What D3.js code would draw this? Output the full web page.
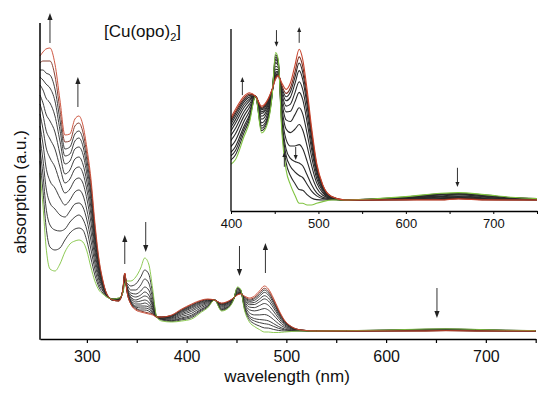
<!DOCTYPE html>
<html>
<head>
<meta charset="utf-8">
<script src="https://cdn.jsdelivr.net/npm/d3@7"></script>
<style>
body { margin: 0; background: #fff; }
svg { display: block; font-family: Arial, "Liberation Sans", sans-serif; }
</style>
</head>
<body>
<div id="canvas"></div>
<script>
"use strict"

let svgWidth = 550
let svgHeight = 394

/* wavelengths (nm) shared by every scan */
let wavelengths = [253,256,259,263,268,273,278,283,288,292, 296,300,304,308,312,316,320,326,332,336,
  338,340,344,349,354,358,362,366,370,375, 385,395,405,415,421,428,435,442,447,451,
  454,458,463,468,473,478,482,487,492,498, 505,515,530,560,600,640,660,690,720,750]

/* absorption (a.u. x100) of each scan, first scan (green) to last scan (red) */
let scan01 = [158,125,85,62,60,67,79,87,90,91, 89,80,64,50,41,37,34,32,33,38,
  47,50,50,54,63,73,67,42,14,10, 9,10,12,19,23,31,20,23,31,44,
  42,21,9,4.5,1.5,-1,-1,-1.5,-1.5,-1, -0.5,0,0,0.3,1,2,2.2,1.6,0.8,0.4]
let scan02 = [170,140,105,84,81,83,91,98,102,103, 101,90,73,56,44,38,34,32,33,38,
  49,48,45,47,54,61,57,37,14,11, 9.6,11.1,13.4,20.1,23.8,31,20.7,23.6,31.2,43.3,
  41.6,22.3,11.2,7.2,5,3.1,2.9,1.6,0.6,0.1, 0,0.1,0,0.3,0.9,1.8,2,1.5,0.7,0.4]
let scan03 = [181,156,124,106,101,100,102,109,114,116, 112,101,82,62,47,40,35,32,32,39,
  51,47,41,41,46,52,48,32,14,12, 10.3,12.2,14.7,21.2,24.6,31,21.4,24.3,31.4,42.6,
  41.1,23.5,13.3,10,8.4,7.3,6.7,4.7,2.7,1.2, 0.4,0.2,0,0.2,0.8,1.6,1.9,1.3,0.7,0.3]
let scan04 = [193,171,144,128,122,116,114,120,127,128, 124,111,91,68,51,41,35,32,32,39,
  53,45,38,37,40,44,41,28,14,12, 10.8,13.1,15.9,22.1,25.3,31,22.1,24.8,31.5,41.9,
  40.7,24.6,15.2,12.4,11.5,11,10.2,7.5,4.6,2.1, 0.8,0.3,0,0.2,0.7,1.5,1.7,1.2,0.6,0.3]
let scan05 = [205,187,164,150,143,133,126,131,139,141, 136,121,100,74,54,43,35,32,32,39,
  54,44,36,34,36,39,36,26,14,12, 11.7,14.6,17.7,23.6,26.4,31,23,25.7,31.8,41,
  40.1,26.3,18.1,16.1,16.1,16.5,15.3,11.6,7.4,3.6, 1.4,0.4,0,0.2,0.6,1.2,1.5,1,0.5,0.2]
let scan06 = [217,202,184,173,164,149,138,142,151,153, 148,132,109,80,57,44,36,32,32,40,
  55,44,34,31,33,35,33,24,14,13, 12.6,16.1,19.7,25.1,27.6,31,24.1,26.6,32,39.9,
  39.5,28.1,21.2,20.1,21.1,22.5,20.9,16.1,10.5,5.1, 2.1,0.5,0,0.1,0.5,1,1.2,0.8,0.4,0.2]
let scan07 = [227,216,201,192,182,164,148,152,162,164, 158,141,117,85,60,45,36,31,31,40,
  55,43,33,29,30,31,29,22,14,13, 13.3,17.4,21.3,26.4,28.6,31,25,27.3,32.2,39,
  38.9,29.7,23.9,23.4,25.4,27.5,25.7,19.9,13.1,6.4, 2.6,0.6,0,0.1,0.4,0.8,1,0.6,0.3,0.2]
let scan08 = [236,228,217,210,199,177,157,161,172,174, 167,149,124,90,62,46,36,31,31,40,
  56,43,31,27,27,28,26,21,14,13, 14,18.6,22.8,27.6,29.5,31,25.8,28,32.4,38.2,
  38.4,31.1,26.3,26.5,29.2,32.1,30,23.3,15.4,7.6, 3.1,0.7,0,0.1,0.3,0.6,0.8,0.4,0.2,0.1]
let scan09 = [246,241,233,228,215,190,167,170,182,184, 177,157,131,94,65,48,36,31,31,40,
  57,42,30,25,25,25,24,19,14,13, 14.5,19.5,23.9,28.5,30.1,31,26.3,28.5,32.6,37.7,
  38.1,32.1,28,28.6,31.9,35.3,33,25.8,17.1,8.5, 3.5,0.8,0,0.1,0.2,0.4,0.7,0.3,0.2,0.1]
let scan10 = [254,251,247,243,230,201,175,177,190,193, 185,164,137,98,67,48,36,31,31,40,
  57,42,29,24,23,23,22,18,14,14, 15,20.3,24.9,29.3,30.7,31,26.9,29,32.7,37.1,
  37.7,33,29.6,30.7,34.6,38.6,36,28.2,18.7,9.3, 3.8,0.9,0,0,0.1,0.3,0.6,0.2,0.1,0.1]
let scan11 = [261,261,258,256,242,211,182,184,197,200, 192,171,142,102,69,49,37,31,30,41,
  57,41,28,23,21,21,20,17,14,14, 15.4,20.9,25.7,29.9,31.2,31,27.3,29.4,32.8,36.7,
  37.5,33.7,30.8,32.3,36.5,40.9,38.1,29.9,19.9,9.9, 4.1,0.9,0,0,0.1,0.2,0.5,0.1,0.1,0]
let scan12 = [268,270,270,270,255,221,189,190,205,208, 199,177,148,105,71,50,37,31,30,41,
  58,41,27,22,20,19,18,17,14,14, 15.7,21.4,26.3,30.4,31.6,31,27.6,29.7,32.9,36.4,
  37.3,34.3,31.8,33.5,38.1,42.7,39.9,31.3,20.8,10.4, 4.3,1,0,0,0.1,0.1,0.4,0.1,0,0]
let scan13 = [275,279,282,283,267,231,196,197,212,215, 206,183,153,109,73,51,37,31,30,41,
  58,41,27,21,19,18,17,16,14,14, 16,22,27,31,32,31,28,30,33,36,
  37,35,33,35,40,45,42,33,22,11, 4.5,1,0,0,0,0,0.3,0,0,0]

let scans = [scan01, scan02, scan03, scan04, scan05, scan06, scan07,
  scan08, scan09, scan10, scan11, scan12, scan13]

/* axis ticks */
let mainTicks = [300,350,400,450,500,550,600,650,700,750]
let mainTickLabels = [300,400,500,600,700]
let insetTicks = [400,450,500,550,600,650,700,750]
let insetTickLabels = [400,500,600,700]

/* arrows: wavelength, tail value, head value */
let mainArrowNm = [263, 291, 338, 359, 453, 479, 651]
let mainArrowFrom = [288, 224, 67, 109, 85, 58, 43]
let mainArrowTo = [318, 254, 96, 79, 55, 88, 13]

let insetArrowNm = [413, 452, 461, 474, 478, 659]
let insetArrowFrom = [31.3, 50.7, 9.9, 15.8, 46.9, 9.6]
let insetArrowTo = [36.7, 45.7, 14.3, 11.9, 51.6, 3.9]

/* SVG canvas */
let svg = d3.select("#canvas")
  .append("svg")
  .attr("width", svgWidth)
  .attr("height", svgHeight)

/* scales */
let xMain = d3.scaleLinear().domain([253, 750]).range([40, 535.7])
let yMain = d3.scaleLinear().domain([-8, 308]).range([339, 23])
let xInset = d3.scaleLinear().domain([400, 750]).range([231, 537])
let yInset = d3.scaleLinear().domain([-3.3, 51]).range([211, 29.1])

function scanColor(i) {
  if (i == 0) return "#80c341"
  if (i == 12) return "#c8452e"
  if (i == 11) return "#7a2c1e"
  return "#2a2a2a"
}

/* draw order: middle scans, then first (green), then last (red) */
let order = d3.range(1, 12).concat([0, 12])

function drawScans(g, x, y, width) {
  let line = d3.line()
    .x(d => x(d[0]))
    .y(d => y(d[1]))
    .curve(d3.curveMonotoneX)

  order.forEach(function(i) {
    let pts = wavelengths.map((w, j) => [w, scans[i][j]])
    g.append("path")
      .attr("d", line(pts))
      .attr("fill", "none")
      .attr("stroke", scanColor(i))
      .attr("stroke-width", width)
      .attr("stroke-linejoin", "round")
  })
}

function drawArrow(g, x, y, nm, from, to, headLen, headW) {
  let px = x(nm)
  let y1 = y(from)
  let y2 = y(to)
  let dir = y2 < y1 ? 1 : -1   // 1 = pointing up
  g.append("line")
    .attr("x1", px).attr("x2", px)
    .attr("y1", y1).attr("y2", y2 + dir * headLen * 0.6)
    .attr("stroke", "#333")
    .attr("stroke-width", 1)
  g.append("path")
    .attr("d", "M" + px + "," + y2 +
      "L" + (px - headW) + "," + (y2 + dir * headLen) +
      "L" + (px + headW) + "," + (y2 + dir * headLen) + "Z")
    .attr("fill", "#222")
}

/* main plot */
let main = svg.append("g")
drawScans(main, xMain, yMain, 0.9)

main.append("g")
  .attr("transform", "translate(0," + 339 + ")")
  .call(d3.axisBottom(xMain)
    .tickValues(mainTicks)
    .tickSize(4)
    .tickSizeOuter(0)
    .tickPadding(8)
    .tickFormat(d => mainTickLabels.includes(d) ? d : ""))
  .call(g => g.selectAll("text").attr("font-size", 16).attr("fill", "#111").attr("font-family", null))
  .call(g => g.select(".domain").attr("stroke-width", 1.5))
  .call(g => g.selectAll(".tick line").attr("stroke-width", 1.2))

main.append("line")
  .attr("x1", 40).attr("x2", 40)
  .attr("y1", 23).attr("y2", 339.7)
  .attr("stroke", "black")
  .attr("stroke-width", 1.5)

mainArrowNm.forEach((nm, i) => drawArrow(main, xMain, yMain, nm, mainArrowFrom[i], mainArrowTo[i], 7, 2.6))

/* inset */
let inset = svg.append("g")
inset.append("clipPath")
  .attr("id", "insetClip")
  .append("rect")
  .attr("x", 231).attr("y", 25)
  .attr("width", 307).attr("height", 190)

let insetLines = inset.append("g").attr("clip-path", "url(#insetClip)")
drawScans(insetLines, xInset, yInset, 1.1)

inset.append("g")
  .attr("transform", "translate(0," + 211 + ")")
  .call(d3.axisBottom(xInset)
    .tickValues(insetTicks)
    .tickSize(3)
    .tickSizeOuter(0)
    .tickPadding(4.5)
    .tickFormat(d => insetTickLabels.includes(d) ? d : ""))
  .call(g => g.selectAll("text").attr("font-size", 13).attr("fill", "#111").attr("font-family", null))
  .call(g => g.select(".domain").attr("stroke-width", 1.3))

inset.append("line")
  .attr("x1", 231).attr("x2", 231)
  .attr("y1", 29).attr("y2", 211.6)
  .attr("stroke", "black")
  .attr("stroke-width", 1.3)

insetArrowNm.forEach((nm, i) => drawArrow(inset, xInset, yInset, nm, insetArrowFrom[i], insetArrowTo[i], 5, 2))

/* title */
let title = svg.append("text")
  .attr("x", 104)
  .attr("y", 37)
  .attr("font-size", 17)
  .attr("fill", "#111")
title.append("tspan").text("[Cu(opo)")
title.append("tspan").attr("font-size", 11).attr("dy", 4).text("2")
title.append("tspan").attr("dy", -4).text("]")

/* axis labels */
svg.append("text")
  .attr("x", 287)
  .attr("y", 382)
  .attr("text-anchor", "middle")
  .attr("font-size", 17)
  .attr("fill", "#111")
  .text("wavelength (nm)")

svg.append("text")
  .attr("transform", "translate(25.5,192) rotate(-90)")
  .attr("text-anchor", "middle")
  .attr("font-size", 17)
  .attr("fill", "#111")
  .text("absorption (a.u.)")
</script>
</body>
</html>
